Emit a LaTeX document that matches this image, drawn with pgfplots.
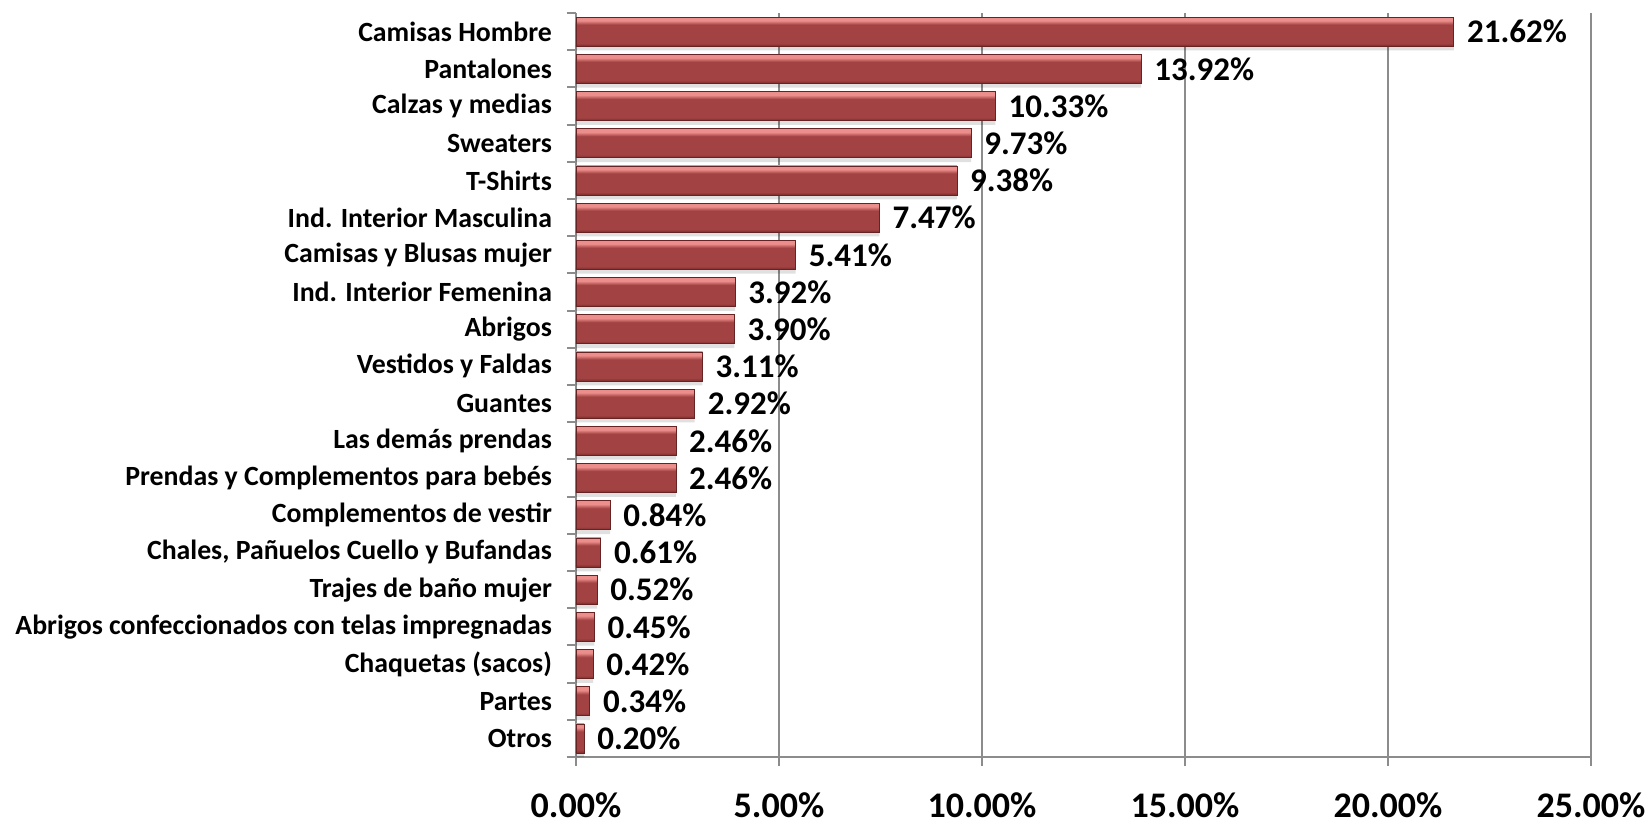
\documentclass[border=0pt]{standalone}
\usepackage{pgfplots}
\pgfplotsset{compat=1.18}
\usepackage{fontspec}
\setmainfont{Carlito}
\definecolor{gridgray}{HTML}{8C8C8C}
\definecolor{barmid}{HTML}{A24242}
\definecolor{bartop}{HTML}{EC8E8C}
\definecolor{barbot}{HTML}{7E2C2C}
\pgfdeclareverticalshading{bevel}{100bp}{color(0bp)=(barbot); color(25bp)=(barbot); color(30bp)=(barmid); color(62bp)=(barmid); color(69bp)=(bartop); color(75bp)=(bartop); color(100bp)=(bartop)}
\pgfplotsset{
  mybar/.style={draw=barbot!80!black, line width=0.3pt, shading=bevel, bar shift=0pt, bar width=14.5pt,
     postaction={}},
  shadowbar/.style={draw=none, fill=black, fill opacity=0.12, bar shift=-2.2pt, bar width=14.5pt, forget plot, nodes near coords={}},
}
\begin{document}
\begin{tikzpicture}
\begin{axis}[
  at={(0,0)}, anchor=south west,
  scale only axis, width=507.5pt, height=372pt,
  xbar,
  xmin=0, xmax=25, ymin=-0.5, ymax=19.5,
  xtick={0,5,10,15,20,25},
  xticklabels={0.00\%,5.00\%,10.00\%,15.00\%,20.00\%,25.00\%},
  ytick={0,...,19},
  yticklabels={Otros,Partes,Chaquetas (sacos),Abrigos confeccionados con telas impregnadas,Trajes de baño mujer,{Chales, Pañuelos Cuello y Bufandas},Complementos de vestir,Prendas y Complementos para bebés,Las demás prendas,Guantes,Vestidos y Faldas,Abrigos,Ind. Interior Femenina,Camisas y Blusas mujer,Ind. Interior Masculina,T-Shirts,Sweaters,Calzas y medias,Pantalones,Camisas Hombre},
  minor ytick={-0.5,0.5,...,19.5},
  axis x line*=bottom, axis y line*=left,
  axis line style={gridgray, line width=1pt, -},
  xmajorgrids, grid style={gridgray, line width=1pt},
  tick align=outside,
  major tick length=4.5pt, minor tick length=4.5pt,
  y tick style={draw=none},
  minor y tick style={draw=gridgray, line width=1pt},
  x tick style={gridgray, line width=1pt},
  xticklabel style={font=\bfseries\fontsize{18}{20}\selectfont, yshift=-10pt},
  yticklabel style={font=\bfseries\fontsize{13.9}{15}\selectfont, xshift=-4pt},
  /pgf/number format/assume math mode=true,
  nodes near coords={\pgfmathprintnumber[fixed,fixed zerofill,precision=2]{\pgfplotspointmeta}\%},
  point meta=x,
  nodes near coords style={font=\bfseries\fontsize{16.5}{18}\selectfont, anchor=west, inner sep=0pt, xshift=6.5pt, text=black},
  clip=false,
]
% soft shadows
\addplot[shadowbar] coordinates {(0.20,0) (0.34,1) (0.42,2) (0.45,3) (0.52,4) (0.61,5) (0.84,6) (2.46,7) (2.46,8) (2.92,9) (3.11,10) (3.90,11) (3.92,12) (5.41,13) (7.47,14) (9.38,15) (9.73,16) (10.33,17) (13.92,18) (21.62,19)};
% bars, one plot each so that every bar gets its own bevel shading
\addplot[mybar] coordinates {(0.20,0)};
\addplot[mybar] coordinates {(0.34,1)};
\addplot[mybar] coordinates {(0.42,2)};
\addplot[mybar] coordinates {(0.45,3)};
\addplot[mybar] coordinates {(0.52,4)};
\addplot[mybar] coordinates {(0.61,5)};
\addplot[mybar] coordinates {(0.84,6)};
\addplot[mybar] coordinates {(2.46,7)};
\addplot[mybar] coordinates {(2.46,8)};
\addplot[mybar] coordinates {(2.92,9)};
\addplot[mybar] coordinates {(3.11,10)};
\addplot[mybar] coordinates {(3.90,11)};
\addplot[mybar] coordinates {(3.92,12)};
\addplot[mybar] coordinates {(5.41,13)};
\addplot[mybar] coordinates {(7.47,14)};
\addplot[mybar] coordinates {(9.38,15)};
\addplot[mybar] coordinates {(9.73,16)};
\addplot[mybar] coordinates {(10.33,17)};
\addplot[mybar] coordinates {(13.92,18)};
\addplot[mybar] coordinates {(21.62,19)};
\end{axis}
\pgfresetboundingbox
\path[use as bounding box] (-288pt,-33.5pt) rectangle (536pt,378.5pt);
\end{tikzpicture}
\end{document}
